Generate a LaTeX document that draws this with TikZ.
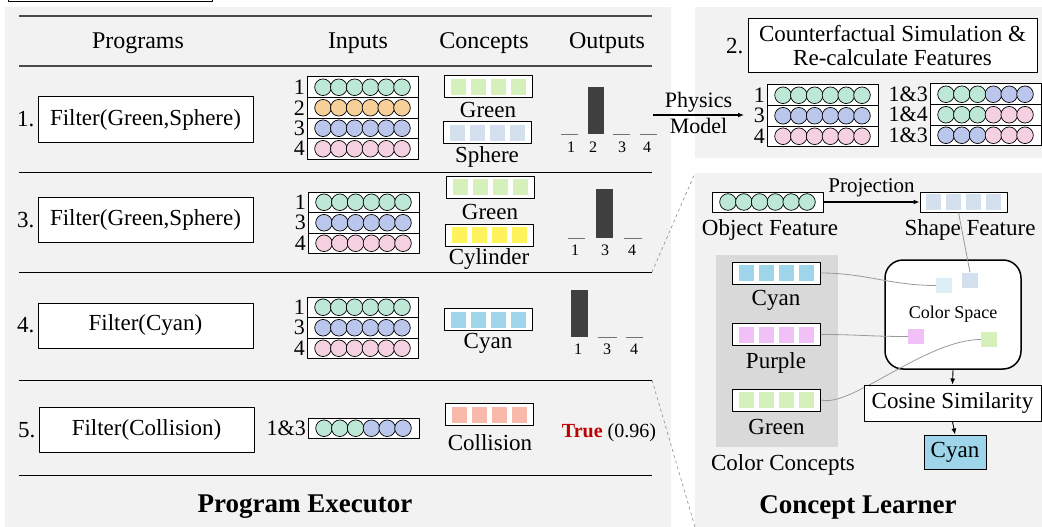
\documentclass[tikz,border=0pt]{standalone}
\usepackage{fontspec}
\setmainfont{Liberation Serif}
\usetikzlibrary{positioning,arrows.meta}
\definecolor{panelgray}{RGB}{242,242,242}
\definecolor{groupgray}{RGB}{217,217,217}
\definecolor{mint}{RGB}{189,232,214}
\definecolor{peach}{RGB}{246,207,153}
\definecolor{lav}{RGB}{186,198,235}
\definecolor{rose}{RGB}{245,208,225}
\definecolor{leaf}{RGB}{213,240,186}
\definecolor{steel}{RGB}{213,224,238}
\definecolor{lemon}{RGB}{255,243,92}
\definecolor{sky}{RGB}{158,213,234}
\definecolor{salmon}{RGB}{248,184,170}
\definecolor{lilac}{RGB}{240,192,247}
\definecolor{icecyan}{RGB}{221,238,246}
\definecolor{truered}{RGB}{192,0,0}

\newcommand\objrow[5]{% name, left, top, label, colours
  \draw[rowbox] (#2,#3) rectangle ++(111,20.5);
  \node[rowlab,anchor=east] (#1) at (#2-2,#3+10.25) {#4};
  \foreach \c [count=\i from 0] in {#5}
    \draw[ball,fill=\c] (#2+16+15.8*\i,#3+10.25) circle (8.3);
}
\newcommand\cells[2]{% node, colour
  \foreach \k in {-30,-10,10,30}
    \fill[#2] ([xshift=\k pt]#1.center) ++(-7.5,-8) rectangle ++(15,16);
}

\begin{document}
\begin{tikzpicture}[x=1pt,y=-1pt,line join=round,
    font=\fontsize{23}{25}\selectfont,
    prog/.style={draw,line width=1pt,fill=white,minimum width=215,minimum height=45,inner sep=0},
    cbox/.style={draw,line width=1pt,fill=white,minimum width=88,minimum height=22,inner sep=0},
    rowbox/.style={draw,line width=1pt,fill=white},
    ball/.style={draw,line width=.7pt},
    rowlab/.style={inner sep=0,font=\fontsize{22}{22}\selectfont},
    head/.style={font=\fontsize{24}{26}\selectfont},
    tick/.style={draw=black!55,line width=.8pt},
    bar/.style={fill=black!75},
    num/.style={inner sep=0,font=\fontsize{16}{16}\selectfont},
    wire/.style={draw=black!40,line width=.8pt},
    cell/.style={minimum width=16,minimum height=15,inner sep=0},
    flow/.style={-{Latex[length=6pt,width=5pt]},line width=.9pt}]
\useasboundingbox (0,0) rectangle (1042,527);

% panels
\fill[panelgray] (5,7) rectangle (671,527);
\fill[panelgray] (695,7) rectangle (1042,158);
\fill[panelgray] (695,173) rectangle (1042,527);
\draw[line width=1pt,fill=white] (8,-10) rectangle (212,2);
\draw[dashed,black!45,line width=.6pt] (652,272) -- (695,173);
\draw[dashed,black!45,line width=.6pt] (652,380) -- (695,527);

% table rules
\draw[line width=2pt,black!70] (19,16) -- (652,16);
\draw[line width=2pt,black!70] (19,66) -- (652,66);
\foreach \y in {172,272,380,475}
  \draw[line width=1pt] (19,\y) -- (652,\y);

\node[head] (hprog) at (138,43) {Programs};
\node[head] (hin) at (358,43) {Inputs};
\node[head] (hcon) at (484,43) {Concepts};
\node[head] (hout) at (607,43) {Outputs};

%----- step 1
\node[prog] (p1) at (145.5,119.5) {Filter(Green,Sphere)};
\node[left=3pt of p1,inner sep=0] (s1) {1.};
\objrow{i1a}{307}{77}{1}{mint,mint,mint,mint,mint,mint}
\objrow{i1b}{307}{97.5}{2}{peach,peach,peach,peach,peach,peach}
\objrow{i1c}{307}{118}{3}{lav,lav,lav,lav,lav,lav}
\objrow{i1d}{307}{138.5}{4}{rose,rose,rose,rose,rose,rose}
\node[cbox] (k1g) at (488,87) {}; \cells{k1g}{leaf}
\node (k1gl) at (488,110) {Green};
\node[cbox] (k1s) at (487,132.5) {}; \cells{k1s}{steel}
\node (k1sl) at (487,157) {Sphere};
\fill[bar] (588,87) rectangle (604,134);
\foreach \a/\b in {561/578,613/630,640/657}
  \draw[tick] (\a,134) -- (\b,134);
\foreach \n/\x in {1/571,2/593,3/622,4/647}
  \node[num] (o1\n) at (\x,147) {\n};

%----- step 3
\node[prog] (p3) at (145.5,220) {Filter(Green,Sphere)};
\node[left=3pt of p3,inner sep=0] (s3) {3.};
\objrow{i3a}{308}{192}{1}{mint,mint,mint,mint,mint,mint}
\objrow{i3b}{308}{212.5}{3}{lav,lav,lav,lav,lav,lav}
\objrow{i3c}{308}{233}{4}{rose,rose,rose,rose,rose,rose}
\node[cbox] (k3g) at (490,187) {}; \cells{k3g}{leaf}
\node (k3gl) at (490,212) {Green};
\node[cbox] (k3c) at (489,235) {}; \cells{k3c}{lemon}
\node (k3cl) at (489,259) {Cylinder};
\fill[bar] (596,189) rectangle (613,238);
\foreach \a/\b in {568/585,624/642}
  \draw[tick] (\a,238) -- (\b,238);
\foreach \n/\x in {1/575,3/605,4/632}
  \node[num] (o3\n) at (\x,250) {\n};

%----- step 4
\node[prog] (p4) at (145.5,325.5) {Filter(Cyan)};
\node[left=3pt of p4,inner sep=0] (s4) {4.};
\objrow{i4a}{307}{297}{1}{mint,mint,mint,mint,mint,mint}
\objrow{i4b}{307}{317.5}{3}{lav,lav,lav,lav,lav,lav}
\objrow{i4c}{307}{338}{4}{rose,rose,rose,rose,rose,rose}
\node[cbox] (k4c) at (488,319.5) {}; \cells{k4c}{sky}
\node (k4cl) at (488,343) {Cyan};
\fill[bar] (571,290) rectangle (588,337);
\foreach \a/\b in {598/617,626/643}
  \draw[tick] (\a,337) -- (\b,337);
\foreach \n/\x in {1/578,3/607,4/634}
  \node[num] (o4\n) at (\x,349) {\n};

%----- step 5
\node[prog] (p5) at (146.5,430) {Filter(Collision)};
\node[left=3pt of p5,inner sep=0] (s5) {5.};
\objrow{i5}{308}{418}{1\&3}{mint,mint,mint,lav,lav,lav}
\node[cbox] (k5c) at (489.5,414.5) {}; \cells{k5c}{salmon}
\node (k5cl) at (490,443) {Collision};
\node (o5) at (609,433) {\fontsize{20}{22}\selectfont\textcolor{truered}{\textbf{True}} (0.96)};

\node[font=\fontsize{27}{29}\selectfont\bfseries] (pexec) at (305,507) {Program Executor};

%----- step 2: physics model
\coordinate (phyA) at (653,115);
\coordinate (phyB) at (744,115);
\draw[flow,line width=1.2pt] (phyA) -- (phyB)
  node[midway,above=-1pt,font=\fontsize{22}{24}\selectfont] (phy) {Physics}
  node[midway,below=-1pt,font=\fontsize{22}{24}\selectfont] (mod) {Model};
\node[draw,line width=1pt,fill=white,minimum width=289,minimum height=54,inner sep=0,
  align=center,font=\fontsize{23}{24}\selectfont] (sim) at (892.5,46)
  {Counterfactual Simulation \&\\Re-calculate Features};
\node[left=4pt of sim,inner sep=0] (s2) {2.};
\objrow{r1}{767}{85}{1}{mint,mint,mint,mint,mint,mint}
\objrow{r3}{767}{105.5}{3}{lav,lav,lav,lav,lav,lav}
\objrow{r4}{767}{126}{4}{rose,rose,rose,rose,rose,rose}
\objrow{c13}{930}{84}{1\&3}{mint,mint,mint,lav,lav,lav}
\objrow{c14}{930}{104.5}{1\&4}{mint,mint,mint,rose,rose,rose}
\objrow{c34}{930}{125}{1\&3}{lav,lav,lav,rose,rose,rose}

%----- concept learner
\node[rowbox,minimum width=111,minimum height=20,inner sep=0] (objf) at (767.5,202) {};
\foreach \i in {0,...,5}
  \draw[ball,fill=mint] (728+15.8*\i,202) circle (8.3);
\node (objfl) at (770,230) {Object Feature};
\node[cbox,minimum width=87,minimum height=20] (shapef) at (963.5,202) {}; \cells{shapef}{steel}
\node (shapefl) at (970,230) {Shape Feature};
\draw[flow,line width=1.2pt] (objf) -- (shapef)
  node[midway,above=1pt,font=\fontsize{21}{23}\selectfont] (proj) {Projection};

\fill[groupgray] (716,255) rectangle (838,447);
\node[cbox] (kcy) at (776,273) {}; \cells{kcy}{sky}
\node (kcyl) at (776,300) {Cyan};
\node[cbox] (kpu) at (776,334.5) {}; \cells{kpu}{lilac}
\node (kpul) at (776,363) {Purple};
\node[cbox] (kgr) at (776.5,400) {}; \cells{kgr}{leaf}
\node (kgrl) at (776.5,427) {Green};
\node (ccl) at (783,465) {Color Concepts};

\node[draw,line width=1.5pt,rounded corners=18pt,fill=white,minimum width=136,minimum height=109,
  font=\fontsize{18}{20}\selectfont] (cspace) at (953,314.5) {Color Space};
\node[cell,fill=icecyan] (sqc) at (944,285.5) {};
\node[cell,fill=steel] (sqs) at (970,280) {};
\node[cell,fill=lilac] (sqp) at (916,336.5) {};
\node[cell,fill=leaf] (sqg) at (989,339.5) {};
\draw[wire] ([xshift=-5pt]shapef.south) -- (sqs.north);
\draw[wire] (kcy.east) .. controls +(45,0) and +(-45,0) .. (sqc.west);
\draw[wire] (kpu.east) .. controls +(40,0) and +(-40,0) .. (sqp.west);
\draw[wire] (kgr.east) .. controls +(30,8) and +(-55,0) .. (sqg.west);

\node[draw,line width=1pt,fill=white,minimum width=177,minimum height=36] (cos) at (952.5,403) {Cosine Similarity};
\node[draw,line width=1pt,fill=sky,minimum width=62,minimum height=34] (res) at (955,452) {Cyan};
\draw[flow] (cspace.south) -- (cos.north);
\draw[flow] (cos.south) -- (res.north);

\node[font=\fontsize{27}{29}\selectfont\bfseries] (clearn) at (858,507) {Concept Learner};
\end{tikzpicture}
\end{document}
